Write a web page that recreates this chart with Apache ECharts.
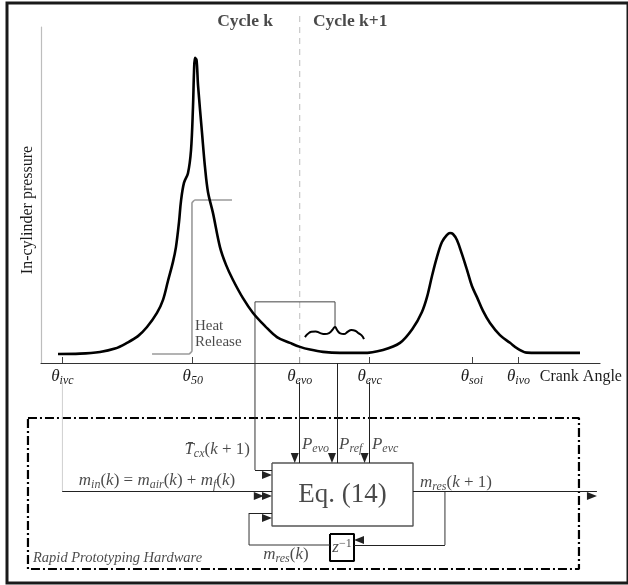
<!DOCTYPE html>
<html>
<head>
<meta charset="utf-8">
<script src="https://cdn.jsdelivr.net/npm/echarts@6/dist/echarts.min.js"></script>
<style>
  html, body { margin: 0; padding: 0; background: #fff; }
  #chart { width: 628px; height: 585px; }
</style>
</head>
<body>
<div id="chart"></div>
<script>
// ---- In-cylinder pressure over cycle k / k+1 (crank angle in deg, pressure normalised 0..100)
const pressureTrace = [
  [-144.7, 2.7], [-121.1, 2.8], [-99.6, 3.3], [-83.5, 4.3], [-70.6, 6.0], [-58.8, 8.0],
  [-49.1, 10.7], [-38.4, 14.9], [-31.9, 18.8], [-26.6, 24.4], [-21.2, 30.1], [-18.0, 34.5],
  [-14.7, 42.0], [-12.6, 48.2], [-9.4, 53.6], [-5.1, 56.5], [-1.8, 63.4], [0.3, 76.2],
  [1.4, 86.6], [2.4, 90.8], [4.1, 90.2], [5.7, 82.7], [10.0, 68.5], [13.2, 58.3],
  [16.4, 50.9], [21.8, 44.6], [29.3, 34.5], [35.8, 29.2], [43.3, 24.7], [54.0, 19.3],
  [64.8, 14.9], [77.7, 11.0], [90.5, 7.7], [104.5, 6.0], [115.3, 4.8], [126.0, 4.0],
  [140.0, 3.3], [158.2, 3.0], [182.9, 3.0], [204.4, 3.9], [222.7, 6.0], [236.7, 10.4],
  [246.3, 15.2], [251.7, 19.6], [257.1, 25.9], [262.4, 31.5], [267.8, 36.0], [273.2, 38.1],
  [276.4, 38.7], [279.6, 38.4], [283.9, 36.6], [289.3, 32.4], [294.7, 27.7], [300.0, 22.9],
  [305.4, 19.6], [311.9, 15.5], [319.4, 11.9], [330.1, 8.3], [340.9, 6.0], [349.5, 4.2],
  [359.1, 3.1], [383.8, 3.0], [416.1, 3.0]
];
// cumulative heat release step around theta_50
const heatRelease = [[-43.7, 2.7], [-4.0, 2.7], [-0.8, 3.6], [-0.8, 47.6], [2.4, 48.5], [42.2, 48.5]];
// pressure samples taken in the exhaust window (P_ref)
const exhaustSamples = [
  [120.6, 7.7], [123.5, 8.6], [127.5, 9.3], [132.0, 9.4], [137.0, 8.9], [142.0, 8.6],
  [146.5, 8.9], [150.0, 9.8], [152.9, 10.7], [155.3, 9.7], [158.5, 8.8], [162.5, 8.6],
  [166.5, 9.3], [170.5, 9.8], [174.5, 9.6], [178.5, 8.8], [181.5, 8.2], [184.0, 7.1]
];
// valve / combustion events on the crank-angle axis
const eventAngles = [-140, 0, 115, 190, 300, 350];
const eventNames = ['ivc', '50', 'evo', 'evc', 'soi', 'ivo'];
const crankLabelAt = 417;
const cycleBoundary = 115;

// ---- Estimator block diagram (x in crank-angle units, y in diagram rows, top = 0)
const windowOutline = [[66.9, 0], [66.9, 18.2], [152.9, 18.2], [152.9, 10.7]];
const hardwareFrame = [[-177, 27.5], [415, 27.5], [415, 103], [-177, 103], [-177, 27.5]];
const eqBox = [[85.2, 50], [236.7, 50], [236.7, 81.5], [85.2, 81.5], [85.2, 50]];
const delayBox = [[147.5, 85.5], [173.3, 85.5], [173.3, 99], [147.5, 99], [147.5, 85.5]];
const wires = [
  [[66.9, 0], [66.9, 53.5]],
  [[271, 64], [271, 91]],
  [[147.5, 91], [60.5, 91], [60.5, 75]]
];
const ivcTap = [[-140, 9.5], [-140, 64]];
const arrows = [
  [[66.9, 53.5], [85.2, 53.5]],
  [[-140, 64], [85.2, 64]],
  [[-140, 64], [76.4, 64]],
  [[60.5, 75], [85.2, 75]],
  [[115, 9.5], [115, 50]],
  [[155, 0], [155, 50]],
  [[190, 9.5], [190, 50]],
  [[236.7, 64], [434.3, 64]],
  [[271, 91], [173.3, 91]]
];

const SERIF = '"Liberation Serif", "Times New Roman", serif';
const INK = '#1c1c1c';
const mathRich = {
  i: { fontFamily: SERIF, fontStyle: 'italic', fontSize: 17, lineHeight: 20, color: INK },
  u: { fontFamily: SERIF, fontSize: 17, lineHeight: 20, color: INK },
  b: { fontFamily: SERIF, fontStyle: 'italic', fontSize: 12, lineHeight: 12, verticalAlign: 'bottom', color: INK },
  p: { fontFamily: SERIF, fontSize: 12, lineHeight: 12, verticalAlign: 'top', color: INK },
  t: { fontFamily: SERIF, fontStyle: 'italic', fontSize: 17, lineHeight: 20, color: INK },
  n: { fontFamily: SERIF, fontSize: 16, lineHeight: 20, color: INK },
  e: { fontFamily: SERIF, fontSize: 27, lineHeight: 30, color: INK },
  r: { fontFamily: SERIF, fontStyle: 'italic', fontSize: 14.5, lineHeight: 16, color: INK },
  h: { fontFamily: SERIF, fontSize: 15, lineHeight: 16, color: INK },
  c: { fontFamily: SERIF, fontWeight: 'bold', fontSize: 17.5, lineHeight: 20, color: INK }
};

function tag(x, y, text, position) {
  return { value: [x, y], label: { show: true, formatter: text, position: position, distance: 0 } };
}
function centre(box) {
  return [(box[0][0] + box[1][0]) / 2, (box[0][1] + box[2][1]) / 2];
}
function outline(data, grid, color, width, extra) {
  return Object.assign({
    type: 'line', data: data, xAxisIndex: grid, yAxisIndex: grid, symbol: 'none',
    clip: false, silent: true, lineStyle: { color: color, width: width }
  }, extra || {});
}

const CANVAS_W = 628;
const xRange = { min: -163, max: 437.6 };
const plotGrid = { left: 41, top: 27, width: 559, height: 336 };
// the diagram grid spans the whole canvas but keeps the same crank-angle scale
const pxPerUnit = plotGrid.width / (xRange.max - xRange.min);
const diagramMin = xRange.min - plotGrid.left / pxPerUnit;
const diagramMax = diagramMin + CANVAS_W / pxPerUnit;

const chart = echarts.init(document.getElementById('chart'), null, { renderer: 'canvas' });
chart.setOption({
  animation: false,
  backgroundColor: '#fff',
  grid: [
    Object.assign({ show: false }, plotGrid),
    { left: 0, width: CANVAS_W, top: 363, height: 222, show: false },
    { left: 7, top: 3, right: -10, bottom: 2, show: true, borderColor: '#1a1a1a', borderWidth: 3, backgroundColor: 'transparent' }
  ],
  xAxis: [
    {
      type: 'value', gridIndex: 0, min: xRange.min, max: xRange.max,
      axisLine: { onZero: true, lineStyle: { color: '#333', width: 1.2 } },
      axisTick: { show: true, inside: true, length: 6, customValues: eventAngles, lineStyle: { color: '#444' } },
      axisLabel: {
        margin: 4, customValues: eventAngles.concat([crankLabelAt]), rich: mathRich,
        formatter: function (v) {
          const i = eventAngles.indexOf(v);
          if (i >= 0) return '{t|θ}{b|' + eventNames[i] + '}';
          return v === crankLabelAt ? '{n|Crank Angle}' : '';
        }
      },
      splitLine: { show: false }
    },
    { type: 'value', gridIndex: 1, min: diagramMin, max: diagramMax, show: false },
    { type: 'value', gridIndex: 2, show: false }
  ],
  yAxis: [
    {
      type: 'value', gridIndex: 0, min: 0, max: 100,
      name: 'In-cylinder pressure', nameLocation: 'middle', nameGap: 5, nameRotate: 90,
      nameTextStyle: { fontFamily: SERIF, fontSize: 16, color: INK, padding: [0, 30, 0, 0] },
      axisLine: { show: true, onZero: false, lineStyle: { color: '#bdbdbd', width: 1.2 } },
      axisTick: { show: false }, axisLabel: { show: false }, splitLine: { show: false }
    },
    { type: 'value', gridIndex: 1, min: 0, max: 111, inverse: true, show: false },
    { type: 'value', gridIndex: 2, show: false }
  ],
  series: [
    outline([[cycleBoundary, 0], [cycleBoundary, 104.5]], 0, '#bdbdbd', 1, { lineStyle: { color: '#bdbdbd', width: 1, type: [6, 5] } }),
    outline(heatRelease, 0, '#9a9a9a', 1.6, { smooth: 0.15 }),
    outline(windowOutline, 0, '#444', 1),
    outline(pressureTrace, 0, '#000', 2.6, { smooth: 0.35 }),
    outline(exhaustSamples, 0, '#000', 2, { smooth: 0.5 }),
    {
      type: 'scatter', xAxisIndex: 0, yAxisIndex: 0, symbolSize: 0, clip: false, silent: true,
      label: { show: true, rich: mathRich },
      data: [
        tag(86.3, 101.5, '{c|Cycle k}', 'left'),
        tag(129.2, 101.5, '{c|Cycle k+1}', 'right'),
        tag(2.4, 8.6, '{h|Heat}\n{h|Release}', 'right')
      ]
    },
    outline(hardwareFrame, 1, '#000', 2.2, { lineStyle: { color: '#000', width: 2.2, type: [9, 3, 2, 3] } }),
    outline(eqBox, 1, '#555', 1.4),
    outline(delayBox, 1, '#000', 2),
    outline(ivcTap, 1, '#cfcfcf', 1)
  ].concat(wires.map(function (w) { return outline(w, 1, '#333', 1); })).concat([
    {
      type: 'line', xAxisIndex: 1, yAxisIndex: 1, data: [], silent: true, clip: false,
      markLine: {
        silent: true, symbol: ['none', 'triangle'], symbolSize: [8, 10], symbolOffset: [0, 5],
        label: { show: false }, emphasis: { disabled: true },
        lineStyle: { color: '#222', width: 1, type: 'solid' },
        data: arrows.map(function (a) { return [{ coord: a[0] }, { coord: a[1] }]; })
      }
    },
    {
      type: 'scatter', xAxisIndex: 1, yAxisIndex: 1, symbolSize: 0, clip: false, silent: true,
      label: { show: true, rich: mathRich },
      data: [
        tag(centre(eqBox)[0], centre(eqBox)[1], '{e|Eq. (14)}', 'inside'),
        tag(centre(delayBox)[0], centre(delayBox)[1], '{i|z}{p|−1}', 'inside'),
        tag(61.5, 43.5, '{i|T̄}{b|cx}{u|(}{i|k}{u| + 1)}', 'left'),
        tag(-38.4, 59, '{i|m}{b|in}{u|(}{i|k}{u|) = }{i|m}{b|air}{u|(}{i|k}{u|) + }{i|m}{b|f}{u|(}{i|k}{u|)}', 'inside'),
        tag(244.2, 60, '{i|m}{b|res}{u|(}{i|k}{u| + 1)}', 'right'),
        tag(100.2, 96, '{i|m}{b|res}{u|(}{i|k}{u|)}', 'inside'),
        tag(117.4, 41, '{i|P}{b|evo}', 'right'),
        tag(157.2, 41, '{i|P}{b|ref}', 'right'),
        tag(192.6, 41, '{i|P}{b|evc}', 'right'),
        tag(-171.6, 97.5, '{r|Rapid Prototyping Hardware}', 'right')
      ]
    }
  ])
});
</script>
</body>
</html>
